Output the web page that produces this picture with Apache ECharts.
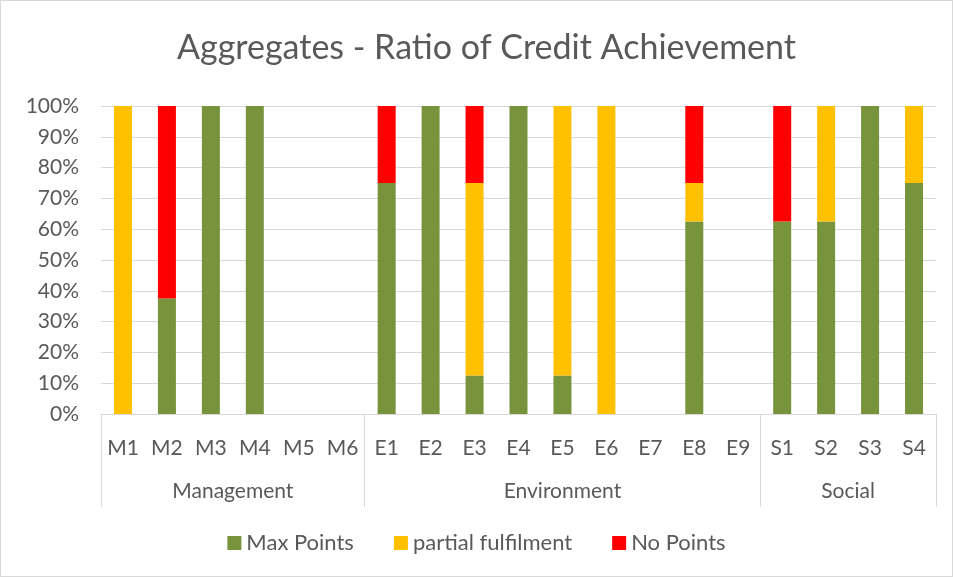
<!DOCTYPE html>
<html>
<head>
<meta charset="utf-8">
<script src="https://cdn.jsdelivr.net/npm/echarts@6/dist/echarts.min.js"></script>
<style>
  html, body { margin: 0; padding: 0; background: #fff; }
  #chart { width: 953px; height: 577px; box-sizing: border-box; border: 1px solid #d9d9d9; }
</style>
</head>
<body>
<div id="chart"></div>
<script>
// categories and groups
const categories = ['M1', 'M2', 'M3', 'M4', 'M5', 'M6',
  'E1', 'E2', 'E3', 'E4', 'E5', 'E6', 'E7', 'E8', 'E9',
  'S1', 'S2', 'S3', 'S4'];
const groupNames = ['Management', 'Environment', 'Social'];
const groupSizes = [6, 9, 4];

// series values (%)
const maxPoints = [0, 37.5, 100, 100, null, null,
  75, 100, 12.5, 100, 12.5, 0, null, 62.5, null,
  62.5, 62.5, 100, 75];
const partialFulfilment = [100, 0, 0, 0, null, null,
  0, 0, 62.5, 0, 87.5, 100, null, 12.5, null,
  0, 37.5, 0, 25];
const noPoints = [0, 62.5, 0, 0, null, null,
  25, 0, 25, 0, 0, 0, null, 25, null,
  37.5, 0, 0, 0];

const FONT = 'Lato';
const TXT = '#595959';
const LINE = '#d9d9d9';

// group axis: two slots per category, points on boundaries and group centres
const groupSlots = [];
const groupTicks = {};
const groupLabels = {};
let start = 0;
groupTicks[0] = true;
groupSizes.forEach((n, i) => {
  groupLabels[start + n] = groupNames[i];
  start += n * 2;
  groupTicks[start] = true;
});
for (let i = 0; i <= categories.length * 2; i++) {
  groupSlots.push(groupLabels[i] || '');
}

const chart = echarts.init(document.getElementById('chart'));
chart.setOption({
  animation: false,
  title: {
    text: 'Aggregates - Ratio of Credit Achievement',
    left: 176,
    top: 30,
    padding: 0,
    textStyle: { fontFamily: FONT, fontSize: 34, fontWeight: 'normal', color: TXT }
  },
  legend: {
    bottom: 17,
    left: 'center',
    icon: 'rect',
    itemWidth: 14,
    itemHeight: 14,
    itemGap: 40,
    textStyle: { fontFamily: FONT, fontSize: 22, color: TXT }
  },
  grid: { left: 100, right: 16, top: 105, bottom: 162 },
  xAxis: [
    {
      type: 'category',
      data: categories,
      axisLine: { lineStyle: { color: LINE, width: 1 } },
      axisTick: { show: false },
      axisLabel: { fontFamily: FONT, fontSize: 21, color: TXT, margin: 24, interval: 0 }
    },
    {
      type: 'category',
      position: 'bottom',
      boundaryGap: false,
      data: groupSlots,
      axisLine: { show: false },
      axisTick: {
        show: true,
        length: 93,
        interval: (idx) => !!groupTicks[idx],
        lineStyle: { color: LINE, width: 1 }
      },
      axisLabel: {
        fontFamily: FONT, fontSize: 21, color: TXT, margin: 67,
        interval: (idx, val) => val !== ''
      }
    }
  ],
  yAxis: {
    type: 'value',
    min: 0,
    max: 100,
    interval: 10,
    axisLine: { show: false },
    axisTick: { show: false },
    axisLabel: { fontFamily: FONT, fontSize: 21, color: TXT, formatter: '{value}%', margin: 22 },
    splitLine: { lineStyle: { color: LINE, width: 1 } }
  },
  series: [
    { name: 'Max Points', type: 'bar', stack: 'a', barWidth: 18, data: maxPoints, itemStyle: { color: '#77933c' } },
    { name: 'partial fulfilment', type: 'bar', stack: 'a', barWidth: 18, data: partialFulfilment, itemStyle: { color: '#ffc000' } },
    { name: 'No Points', type: 'bar', stack: 'a', barWidth: 18, data: noPoints, itemStyle: { color: '#ff0000' } }
  ]
});
</script>
</body>
</html>
